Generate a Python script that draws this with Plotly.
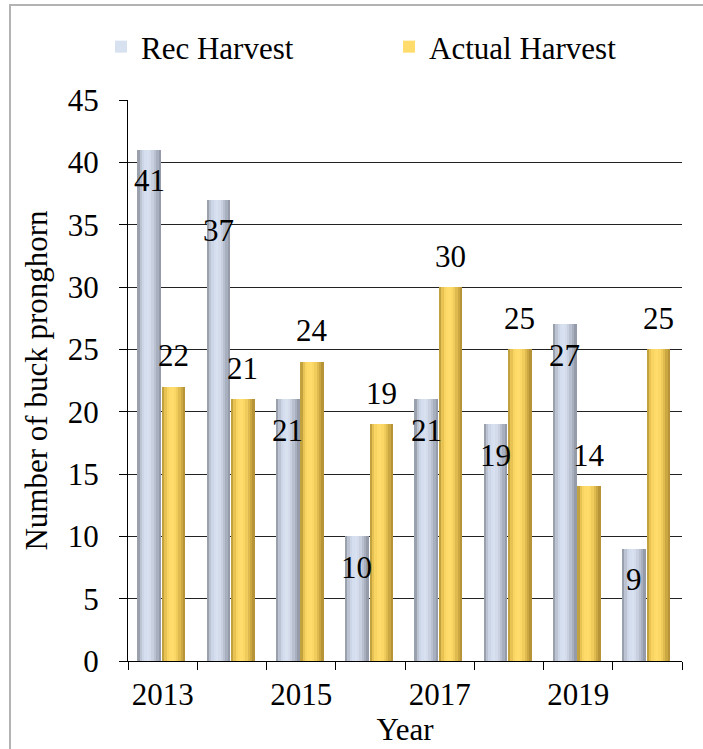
import plotly.graph_objects as go

# Harvest data (number of buck pronghorn)
years = [2013, 2014, 2015, 2016, 2017, 2018, 2019, 2020]
rec_harvest = [41, 37, 21, 10, 21, 19, 27, 9]
actual_harvest = [22, 21, 24, 19, 30, 25, 14, 25]
year_labels = ["2013", "2015", "2017", "2019"]
label_years = [2013, 2015, 2017, 2019]
series_names = ["Rec Harvest", "Actual Harvest"]

FONT = "Liberation Serif"
W, H = 703, 749
ML, MR, MT, MB = 128, 21, 100, 88

# Colour profiles across a bar (left edge -> right edge), giving a cylinder look
rec_profile = ["#9aa0ac", "#bcc4d3", "#cdd6e6", "#d5deee", "#d8e1f0", "#d4dcec",
               "#c9d1e1", "#b9c1d0", "#a8afbe", "#959ba8"]
act_profile = ["#c2a23e", "#e8c353", "#f8d463", "#fedb69", "#ffdc6b", "#fbd866",
               "#f0cc5c", "#dfba4e", "#cca843", "#b69437"]

BAR_W = 0.34
offsets = [-0.365, -0.012]

fig = go.Figure()

for name, values, profile, off in [
    (series_names[0], rec_harvest, rec_profile, offsets[0]),
    (series_names[1], actual_harvest, act_profile, offsets[1]),
]:
    n = len(profile)
    sw = BAR_W / n
    for i, col in enumerate(profile):
        fig.add_trace(go.Bar(
            x=years, y=values, name=name,
            width=sw * 1.05, offset=off + i * sw,
            marker=dict(color=col, line=dict(width=0)),
            showlegend=(i == 4), legendgroup=name,
            hoverinfo="skip" if i != 4 else None,
        ))

# value labels: recommended inside the bar top, actual above the bar
annotations = []
for yr, v in zip(years, rec_harvest):
    annotations.append(dict(x=yr + offsets[0] + BAR_W / 2, y=v, xref="x", yref="y",
                            text=str(v), showarrow=False, yshift=-31,
                            font=dict(family=FONT, size=31, color="black")))
for yr, v in zip(years, actual_harvest):
    annotations.append(dict(x=yr + offsets[1] + BAR_W / 2, y=v, xref="x", yref="y",
                            text=str(v), showarrow=False, yshift=31,
                            font=dict(family=FONT, size=31, color="black")))

pw = W - ML - MR
ph = H - MT - MB
# light grey chart frame
frame = dict(type="rect", xref="paper", yref="paper", layer="below",
             x0=(10 - ML) / pw, x1=(W + 10 - ML) / pw,
             y0=(H - MB - (H + 10)) / ph, y1=(H - MB - 5) / ph,
             line=dict(color="#b3b3b3", width=2), fillcolor="rgba(0,0,0,0)")

fig.update_layout(
    width=W, height=H,
    margin=dict(l=ML, r=MR, t=MT, b=MB, pad=0, autoexpand=False),
    paper_bgcolor="white", plot_bgcolor="white",
    barmode="overlay", bargap=0,
    font=dict(family=FONT, size=31, color="black"),
    showlegend=True,
    legend=dict(orientation="h", x=(101 - ML) / pw, xanchor="left",
                y=(H - MB - 47) / ph, yanchor="middle",
                font=dict(family=FONT, size=31, color="black"),
                entrywidth=243, entrywidthmode="pixels",
                bgcolor="rgba(0,0,0,0)", traceorder="normal"),
    annotations=annotations,
    shapes=[frame],
    xaxis=dict(
        range=[2012.5, 2020.5], tickmode="array", tickvals=label_years, ticktext=year_labels,
        ticks="", showgrid=False, zeroline=False, automargin=False,
        showline=True, linecolor="black", linewidth=1,
        ticklabelstandoff=6,
        tickfont=dict(family=FONT, size=31, color="black"),
        minor=dict(tickmode="array", tickvals=[y - 0.5 for y in years] + [years[-1] + 0.5],
                   ticks="outside", ticklen=8, tickcolor="black", tickwidth=1, showgrid=False),
        title=dict(text="Year", font=dict(family=FONT, size=31, color="black"), standoff=6),
    ),
    yaxis=dict(
        range=[0, 45], dtick=5, tick0=0, automargin=False,
        ticks="outside", ticklen=8, tickcolor="black", tickwidth=1,
        showgrid=True, gridcolor="#222222", gridwidth=1,
        zeroline=False, showline=True, linecolor="black", linewidth=1,
        ticklabelstandoff=14,
        tickfont=dict(family=FONT, size=31, color="black"),
        title=dict(text="Number of buck pronghorn",
                   font=dict(family=FONT, size=31, color="black"), standoff=10),
    ),
)

fig.write_html("out.html")
